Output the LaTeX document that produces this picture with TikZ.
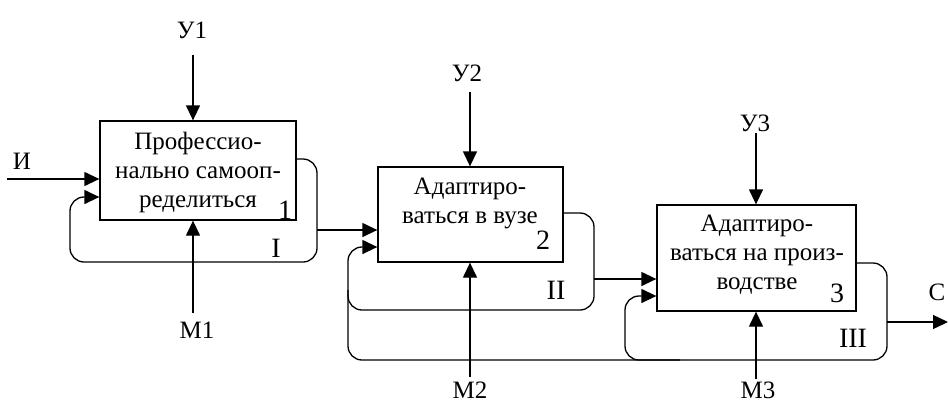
\documentclass[tikz,border=0pt]{standalone}
\usepackage{fontspec}
\setmainfont{Liberation Serif}
\usetikzlibrary{arrows.meta,positioning}

\begin{document}
\begin{tikzpicture}[x=0.5pt,y=-0.5pt,line width=0.65pt,
	>={Triangle[length=7.5pt,width=7pt]},
	font=\fontsize{12.5pt}{14.5pt}\selectfont,
	block/.style={draw,rectangle,inner sep=0pt},
	txt/.style={align=center,inner sep=0pt},
	num/.style={inner sep=0pt,font=\fontsize{14pt}{16pt}\selectfont},
	lbl/.style={inner sep=0pt},
	fb/.style={rounded corners=7pt}]
\useasboundingbox (0,0) rectangle (948,403);

% stages
\node[block,minimum width=98pt,minimum height=49.5pt]	(b1)	at (198,170.5)	{};
\node[block,minimum width=92.5pt,minimum height=47.5pt]	(b2)	at (470.5,214.5)	{};
\node[block,minimum width=99.5pt,minimum height=53pt]	(b3)	at (756.5,258)	{};

\node[txt]	(t1)	at (198,172)	{Профессио-\\нально самооп-\\ределиться};
\node[txt]	(t2)	at (470,203)	{Адаптиро-\\ваться в вузе};
\node[txt]	(t3)	at (757,255)	{Адаптиро-\\ваться на произ-\\водстве};

\node[num]	(n1)	at (285,210)	{1};
\node[num]	(n2)	at (543,240)	{2};
\node[num]	(n3)	at (837,293)	{3};
\node[num]	(r1)	at (276,248)	{I};
\node[num]	(r2)	at (556,290)	{II};
\node[num]	(r3)	at (853,338)	{III};

% labels
\node[lbl]	(u1)	at (192,30)		{У1};
\node[lbl]	(u2)	at (467,73)		{У2};
\node[lbl]	(u3)	at (755,123)	{У3};
\node[lbl]	(m1)	at (197,330)	{М1};
\node[lbl]	(m2)	at (470,390)	{М2};
\node[lbl]	(m3)	at (758,390)	{М3};
\node[lbl]	(i)		at (22,161)		{И};
\node[lbl]	(c)		at (937,292)	{С};

\coordinate	(u1s)	at (193,55);
\coordinate	(u2s)	at (470,92);
\coordinate	(u3s)	at (756,133);
\coordinate	(m1s)	at (193,313);
\coordinate	(m2s)	at (470,377);
\coordinate	(m3s)	at (756,379);
\coordinate	(is)	at (7,179);
\coordinate	(f1)	at (317,230);
\coordinate	(f2)	at (594,279);
\coordinate	(f3)	at (887,322);
\coordinate	(cs)	at (948,322);

\draw[->] (u1s) -- (u1s |- b1.north);
\draw[->] (u2s) -- (u2s |- b2.north);
\draw[->] (u3s) -- (u3s |- b3.north);
\draw[->] (m1s) -- (m1s |- b1.south);
\draw[->] (m2s) -- (m2s |- b2.south);
\draw[->] (m3s) -- (m3s |- b3.south);
\draw[->] (is) -- (is -| b1.west);

% feedback loops
\draw[fb,->] (b1.east |- 0,159) -- (317,159) -- (317,262) -- (70,262) -- (70,197) -- (b1.west |- 0,197);
\draw[->] (f1) -- (f1 -| b2.west);
\draw[fb,->] (b2.east |- 0,213) -- (594,213) -- (594,310) -- (348,310) -- (348,247) -- (b2.west |- 0,247);
\draw[->] (f2) -- (f2 -| b3.west);
\draw[fb] (b3.east |- 0,263) -- (887,263) -- (887,360) -- (348,360) -- (348,290);
\draw[fb,->] (680,360) -- (625,360) -- (625,296) -- (b3.west |- 0,296);
\draw[->] (f3) -- (cs);
\end{tikzpicture}
\end{document}
